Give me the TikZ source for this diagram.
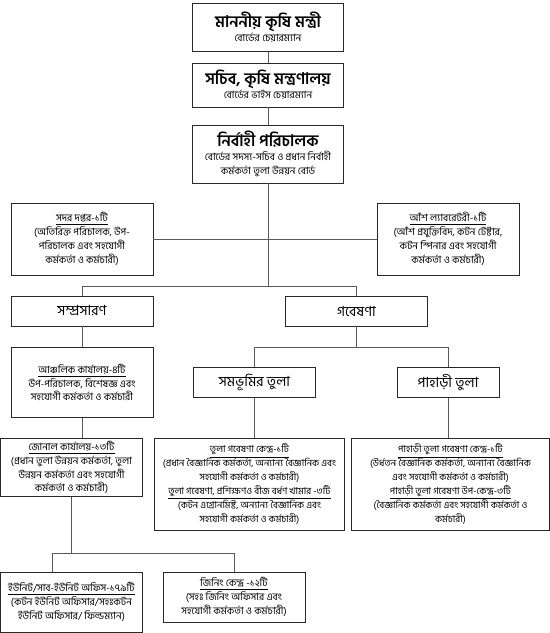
\documentclass[tikz,border=0pt]{standalone}
\usepackage{fontspec}
\usepackage{tikz}
\usetikzlibrary{positioning, calc}
\newfontfamily\bn[Script=Bengali]{Hind Siliguri}
\definecolor{wire}{RGB}{90,90,90}
\definecolor{edge}{RGB}{40,40,40}

\begin{document}
\begin{tikzpicture}[x=0.75pt, y=-0.75pt]
  \tikzstyle{box} = [rectangle, draw=edge, line width=0.7pt, fill=white, align=center, inner sep=2pt, font=\bn\fontsize{7.5}{10.4}\selectfont]
  \tikzstyle{wide} = [box, font=\bn\fontsize{7.1}{10.4}\selectfont]
  \tikzstyle{head} = [box, font=\bn\fontsize{10.5}{13}\selectfont]
  \tikzstyle{link} = [draw=wire, line width=0.6pt]

  \useasboundingbox (0,0) rectangle (550,633);

  % top of the board
  \node [box, minimum width=113pt, minimum height=36.5pt] (min) at (268,27.5) {{\fontsize{12}{16}\selectfont\bfseries মাননীয় কৃষি মন্ত্রী}\\বোর্ডের চেয়ারম্যান};
  \node [box, minimum width=113pt, minimum height=33pt] (sec) at (268,85) {{\fontsize{12}{16}\selectfont\bfseries সচিব, কৃষি মন্ত্রণালয়}\\বোর্ডের ভাইস চেয়ারম্যান};
  \node [box, minimum width=113pt, minimum height=43.5pt] (ed) at (268,154) {{\fontsize{12}{16}\selectfont\bfseries নির্বাহী পরিচালক}\\বোর্ডের সদস্য-সচিব ও প্রধান নির্বাহী\\কর্মকর্তা তুলা উন্নয়ন বোর্ড};

  \node [box, minimum width=106.5pt, minimum height=54pt] (hq) at (82,239) {\underline{সদর দপ্তর-১টি}\\(অতিরিক্ত পরিচালক, উপ-\\পরিচালক এবং সহযোগী\\কর্মকর্তা ও কর্মচারী)};
  \node [box, minimum width=106.5pt, minimum height=54pt] (lab) at (448,239) {\underline{আঁশ ল্যাবরেটরী-১টি}\\(আঁশ প্রযুক্তিবিদ, কটন টেষ্টার,\\কটন স্পিনার এবং সহযোগী\\কর্মকর্তা ও কর্মচারী)};

  % two wings
  \node [head, minimum width=106.5pt, minimum height=22.5pt] (ext) at (82,311) {সম্প্রসারণ};
  \node [head, minimum width=107pt, minimum height=22.5pt] (res) at (356.5,311) {গবেষণা};

  \node [box, minimum width=106.5pt, minimum height=53pt] (reg) at (82,382.5) {\underline{আঞ্চলিক কার্যালয়-৪টি}\\উপ-পরিচালক, বিশেষজ্ঞ এবং\\সহযোগী কর্মকর্তা ও কর্মচারী};
  \node [head, minimum width=92pt, minimum height=23pt] (plain) at (254.5,382.5) {সমভূমির তুলা};
  \node [head, minimum width=76.5pt, minimum height=23pt] (hill) at (448,382.5) {পাহাড়ী তুলা};

  \node [box, minimum width=107pt, minimum height=44pt] (zone) at (71.5,467.5) {\underline{জোনাল কার্যালয়-১৩টি}\\(প্রধান তুলা উন্নয়ন কর্মকর্তা, তুলা\\উন্নয়ন কর্মকর্তা এবং সহযোগী\\কর্মকর্তা ও কর্মচারী)};
  \node [wide, minimum width=143pt, minimum height=69pt] (crc) at (249.5,484) {\underline{তুলা গবেষণা কেন্দ্র-১টি}\\(প্রধান বৈজ্ঞানিক কর্মকর্তা, অন্যান্য বৈজ্ঞানিক এবং\\সহযোগী কর্মকর্তা ও কর্মচারী)\\\underline{তুলা গবেষণা, প্রশিক্ষণও বীজ বর্ধণ খামার -৩টি}\\(কটন এগ্রোনমিষ্ট, অন্যান্য বৈজ্ঞানিক এবং\\সহযোগী কর্মকর্তা ও কর্মচারী)};
  \node [wide, minimum width=148pt, minimum height=69pt] (hcrc) at (450.5,484) {\underline{পাহাড়ী তুলা গবেষণা কেন্দ্র-১টি}\\(উর্ধতন বৈজ্ঞানিক কর্মকর্তা, অন্যান্য বৈজ্ঞানিক\\এবং সহযোগী কর্মকর্তা ও কর্মচারী)\\\underline{পাহাড়ী তুলা গবেষণা উপ-কেন্দ্র-৩টি}\\(বৈজ্ঞানিক কর্মকর্তা এবং সহযোগী কর্মকর্তা ও\\কর্মচারী)};

  \node [box, minimum width=107pt, minimum height=45pt] (unit) at (71.5,602) {\underline{ইউনিট/সাব-ইউনিট অফিস-১৭৯টি}\\(কটন ইউনিট অফিসার/সহঃকটন\\ইউনিট অফিসার/ ফিল্ডম্যান)};
  \node [box, minimum width=106.5pt, minimum height=37.5pt] (gin) at (234,597) {\underline{জিনিং কেন্দ্র -১২টি}\\(সহঃ জিনিং অফিসার এবং\\সহযোগী কর্মকর্তা ও কর্মচারী)};

  % connectors
  \coordinate (bus) at (0,286);
  \draw [link] (min) -- (sec);
  \draw [link] (sec) -- (ed);
  \draw [link] (ed.south) -- (ed.south |- bus);
  \draw [link] (hq.east) -- (lab.west);
  \draw [link] (ext.north) |- (bus -| res.north) -- (res.north);
  \draw [link] (ext) -- (reg);
  \draw [link] (res.south) -- ++(0,21) coordinate (rb) (plain.north) |- (rb -| hill.north) -- (hill.north);
  \draw [link] (reg.south) -- (reg.south |- zone.north);
  \draw [link] (plain) -- (crc.north -| plain.south);
  \draw [link] (hill) -- (hcrc.north -| hill.south);
  \draw [link] (zone.south) -- ++(0,56) coordinate (zb);
  \draw [link] ([xshift=-14.5pt]unit.north) |- (zb -| gin.north) -- (gin.north);
\end{tikzpicture}
\end{document}
